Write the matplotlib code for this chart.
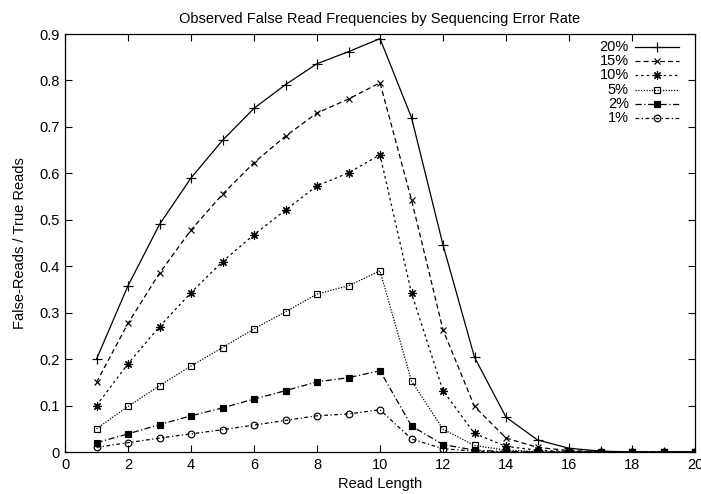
import matplotlib
matplotlib.use("Agg")
import matplotlib.pyplot as plt
from matplotlib.lines import Line2D

plt.rcParams['font.family'] = ['Liberation Sans', 'DejaVu Sans']

read_length = list(range(1, 21))

err_20 = [0.200, 0.358, 0.490, 0.590, 0.671, 0.740, 0.791, 0.836, 0.862, 0.890,
          0.720, 0.446, 0.204, 0.075, 0.026, 0.008, 0.002, 0.0, 0.0, 0.0]
err_15 = [0.150, 0.277, 0.385, 0.478, 0.555, 0.623, 0.680, 0.730, 0.760, 0.795,
          0.543, 0.263, 0.098, 0.030, 0.010, 0.003, 0.001, 0.0, 0.0, 0.0]
err_10 = [0.100, 0.190, 0.270, 0.343, 0.410, 0.468, 0.521, 0.573, 0.601, 0.640,
          0.342, 0.132, 0.040, 0.012, 0.004, 0.001, 0.0, 0.0, 0.0, 0.0]
err_5 = [0.050, 0.098, 0.143, 0.185, 0.225, 0.265, 0.302, 0.340, 0.358, 0.390,
         0.153, 0.049, 0.014, 0.004, 0.001, 0.0, 0.0, 0.0, 0.0, 0.0]
err_2 = [0.020, 0.039, 0.059, 0.078, 0.095, 0.114, 0.132, 0.151, 0.160, 0.175,
         0.056, 0.016, 0.004, 0.001, 0.0, 0.0, 0.0, 0.0, 0.0, 0.0]
err_1 = [0.010, 0.020, 0.030, 0.039, 0.048, 0.058, 0.068, 0.078, 0.082, 0.091,
         0.028, 0.007, 0.002, 0.0, 0.0, 0.0, 0.0, 0.0, 0.0, 0.0]

labels = ["20%", "15%", "10%", "5%", "2%", "1%"]
series = [err_20, err_15, err_10, err_5, err_2, err_1]

# gnuplot-ish point and dash types
styles = [
    dict(marker="+", dashes=None, ms=6.5, mfc="black"),
    dict(marker="x", dashes=(4, 2.5), ms=5, mfc="black"),
    dict(marker=(8, 2, 0), dashes=(2, 2.5), ms=6, mfc="black"),
    dict(marker="s", dashes=(1, 1.2), ms=5, mfc="none"),
    dict(marker="s", dashes=(5, 2, 1, 2), ms=5, mfc="black"),
    dict(marker="o", dashes=(3, 2, 1, 2), ms=4.8, mfc="none"),
]

fig = plt.figure(figsize=(7.01, 4.94), dpi=100)
ax = fig.add_axes([65 / 701, 42 / 494, 630 / 701, 418 / 494])

for vals, st in zip(series, styles):
    line, = ax.plot(read_length, vals, color="black", lw=0.9,
                    marker=st["marker"], ms=st["ms"], mfc=st["mfc"],
                    mec="black", mew=0.85)
    if st["dashes"]:
        line.set_dashes(st["dashes"])

# key in the top right, labels right-aligned with samples after them
for i, (lab, st) in enumerate(zip(labels, styles)):
    y = 1 - (13 + 14.2 * i) / 418
    ax.text(0.895, y, lab, transform=ax.transAxes, ha="right", va="center",
            fontsize=10.5)
    key = Line2D([0.905, 0.975], [y, y], transform=ax.transAxes,
                 color="black", lw=0.9)
    if st["dashes"]:
        key.set_dashes(st["dashes"])
    ax.add_line(key)
    ax.plot([0.94], [y], transform=ax.transAxes, marker=st["marker"],
            ms=st["ms"], mfc=st["mfc"], mec="black", mew=0.85, color="black")

ax.set_xlim(0, 20)
ax.set_ylim(0, 0.9)
ax.set_xticks(range(0, 21, 2))
ax.set_yticks([i / 10 for i in range(10)])
ax.set_yticklabels(["0"] + ["%.1f" % (i / 10) for i in range(1, 10)])
ax.tick_params(direction="in", length=5, width=0.8, top=True, right=True,
               labelsize=10.5, pad=4)
for sp in ax.spines.values():
    sp.set_linewidth(0.9)

ax.set_title("Observed False Read Frequencies by Sequencing Error Rate",
             fontsize=10.5, pad=8)
ax.set_xlabel("Read Length", fontsize=10.5, labelpad=4)
ax.set_ylabel("False-Reads / True Reads", fontsize=10.5, labelpad=9)

fig.savefig("out.png", dpi=100)
